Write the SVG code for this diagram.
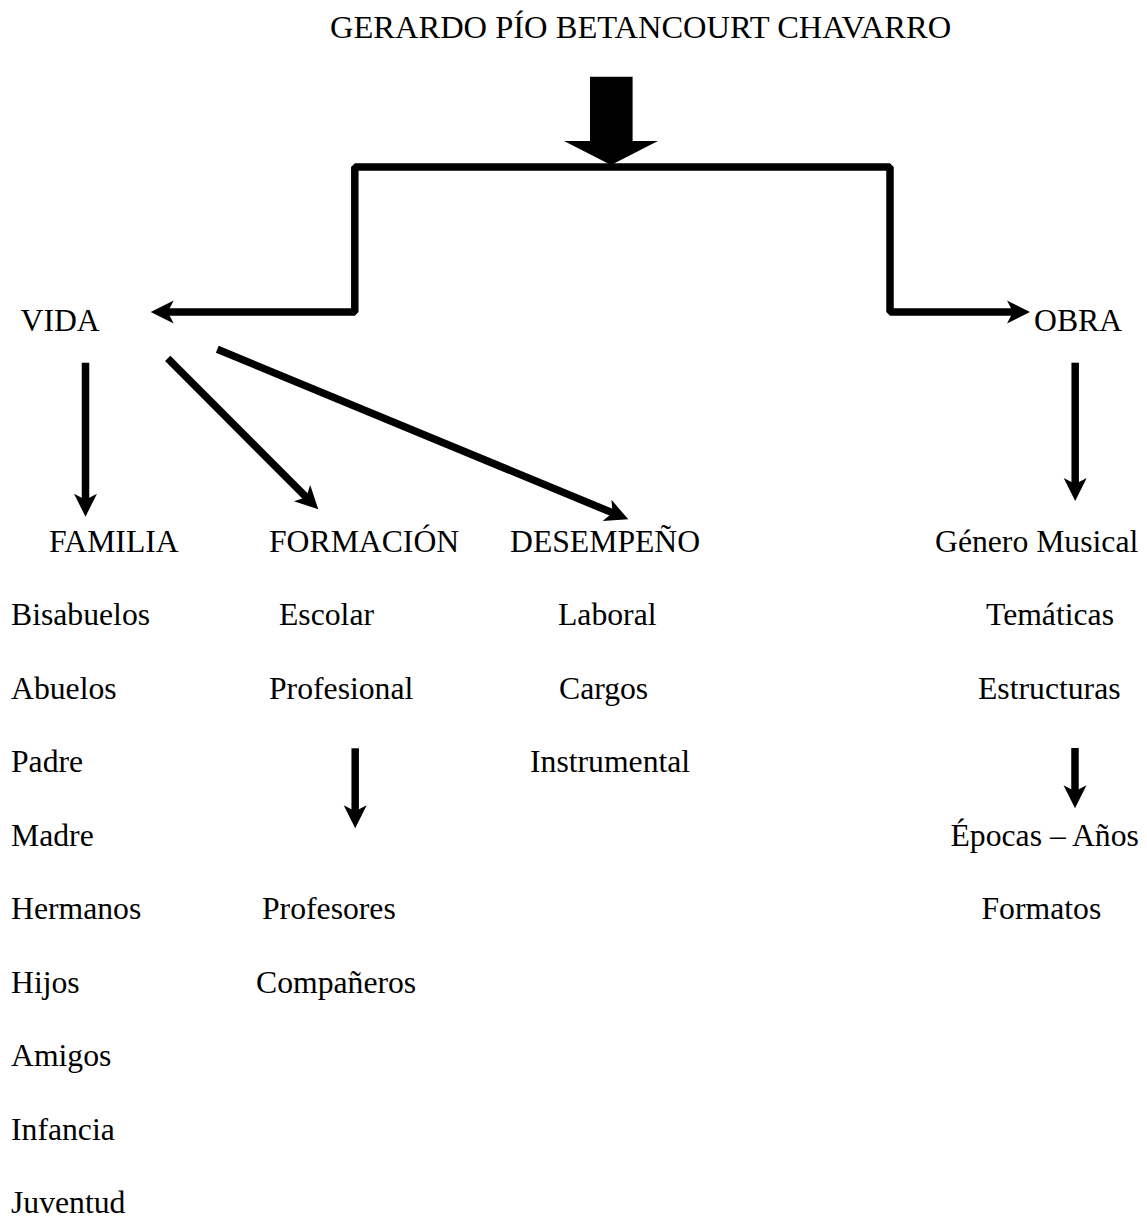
<svg xmlns="http://www.w3.org/2000/svg" xmlns:xlink="http://www.w3.org/1999/xlink" width="1147" height="1218" viewBox="0 0 1147 1218">
  <style>
    text { font-family: "Liberation Serif", "Times New Roman", serif; font-size: 31.7px; fill: #000; }
    .title { font-size: 32.5px; }
    .ln { fill: none; stroke: #000; stroke-width: 7.5; stroke-linecap: butt; stroke-linejoin: bevel; }
    .hd { fill: #000; stroke: none; }
  </style>
  <defs>
    <path id="head" d="M0,0 L-23,-11.5 L-17,0 L-23,11.5 Z"/>
  </defs>
  <rect width="1147" height="1218" fill="#fff"/>

  <g id="connectors">
    <!-- top block arrow -->
    <path class="hd" d="M590,76.7 H632.6 V141 H658 L611,165 L564,141 H590 Z"/>
    <!-- bracket -->
    <path class="ln" d="M166,312 H354.8 V167 H890 V312 H1016"/>
    <use class="hd" xlink:href="#head" transform="translate(150.7,312) rotate(180)"/>
    <use class="hd" xlink:href="#head" transform="translate(1030,312)"/>
    <!-- VIDA down -->
    <line class="ln" x1="85.5" y1="362.7" x2="85.5" y2="502"/>
    <use class="hd" xlink:href="#head" transform="translate(85.5,516.7) rotate(90)"/>
    <!-- VIDA to FORMACION -->
    <line class="ln" x1="167.7" y1="358.3" x2="307.7" y2="498.7"/>
    <use class="hd" xlink:href="#head" transform="translate(318.3,509.3) rotate(45.1)"/>
    <!-- VIDA to DESEMPENO -->
    <line class="ln" x1="217.3" y1="349.3" x2="614.5" y2="513.6"/>
    <use class="hd" xlink:href="#head" transform="translate(628.3,519.3) rotate(22.5)"/>
    <!-- OBRA down -->
    <line class="ln" x1="1075.2" y1="362.7" x2="1075.2" y2="487"/>
    <use class="hd" xlink:href="#head" transform="translate(1075.2,501) rotate(90)"/>
    <!-- Profesional down -->
    <line class="ln" x1="355.2" y1="748.3" x2="355.2" y2="814"/>
    <use class="hd" xlink:href="#head" transform="translate(355.2,828.3) rotate(90)"/>
    <!-- Estructuras down -->
    <line class="ln" x1="1075" y1="748" x2="1075" y2="794"/>
    <use class="hd" xlink:href="#head" transform="translate(1075,808.3) rotate(90)"/>
  </g>

  <g id="title"><text class="title" x="330" y="38">GERARDO PÍO BETANCOURT CHAVARRO</text></g>
  <g id="vida"><text x="20.5" y="331">VIDA</text></g>
  <g id="obra"><text x="1034" y="331">OBRA</text></g>

  <g id="familia">
    <text x="49" y="551.7">FAMILIA</text>
    <text x="11" y="625.2">Bisabuelos</text>
    <text x="11" y="698.7">Abuelos</text>
    <text x="11" y="772.2">Padre</text>
    <text x="11" y="845.7">Madre</text>
    <text x="11" y="919.2">Hermanos</text>
    <text x="11" y="992.7">Hijos</text>
    <text x="11" y="1066.2">Amigos</text>
    <text x="11" y="1139.7">Infancia</text>
    <text x="11" y="1213.2">Juventud</text>
  </g>

  <g id="formacion">
    <text x="269" y="551.7">FORMACIÓN</text>
    <text x="279" y="625.2">Escolar</text>
    <text x="269" y="698.7">Profesional</text>
    <text x="262" y="919.2">Profesores</text>
    <text x="256" y="992.7">Compañeros</text>
  </g>

  <g id="desempeno">
    <text x="510" y="551.7">DESEMPEÑO</text>
    <text x="558" y="625.2">Laboral</text>
    <text x="559" y="698.7">Cargos</text>
    <text x="530" y="772.2">Instrumental</text>
  </g>

  <g id="genero">
    <text x="935" y="551.7">Género Musical</text>
    <text x="986" y="625.2">Temáticas</text>
    <text x="978" y="698.7">Estructuras</text>
    <text x="950.5" y="845.7">Épocas – Años</text>
    <text x="981.5" y="919.2">Formatos</text>
  </g>
</svg>
